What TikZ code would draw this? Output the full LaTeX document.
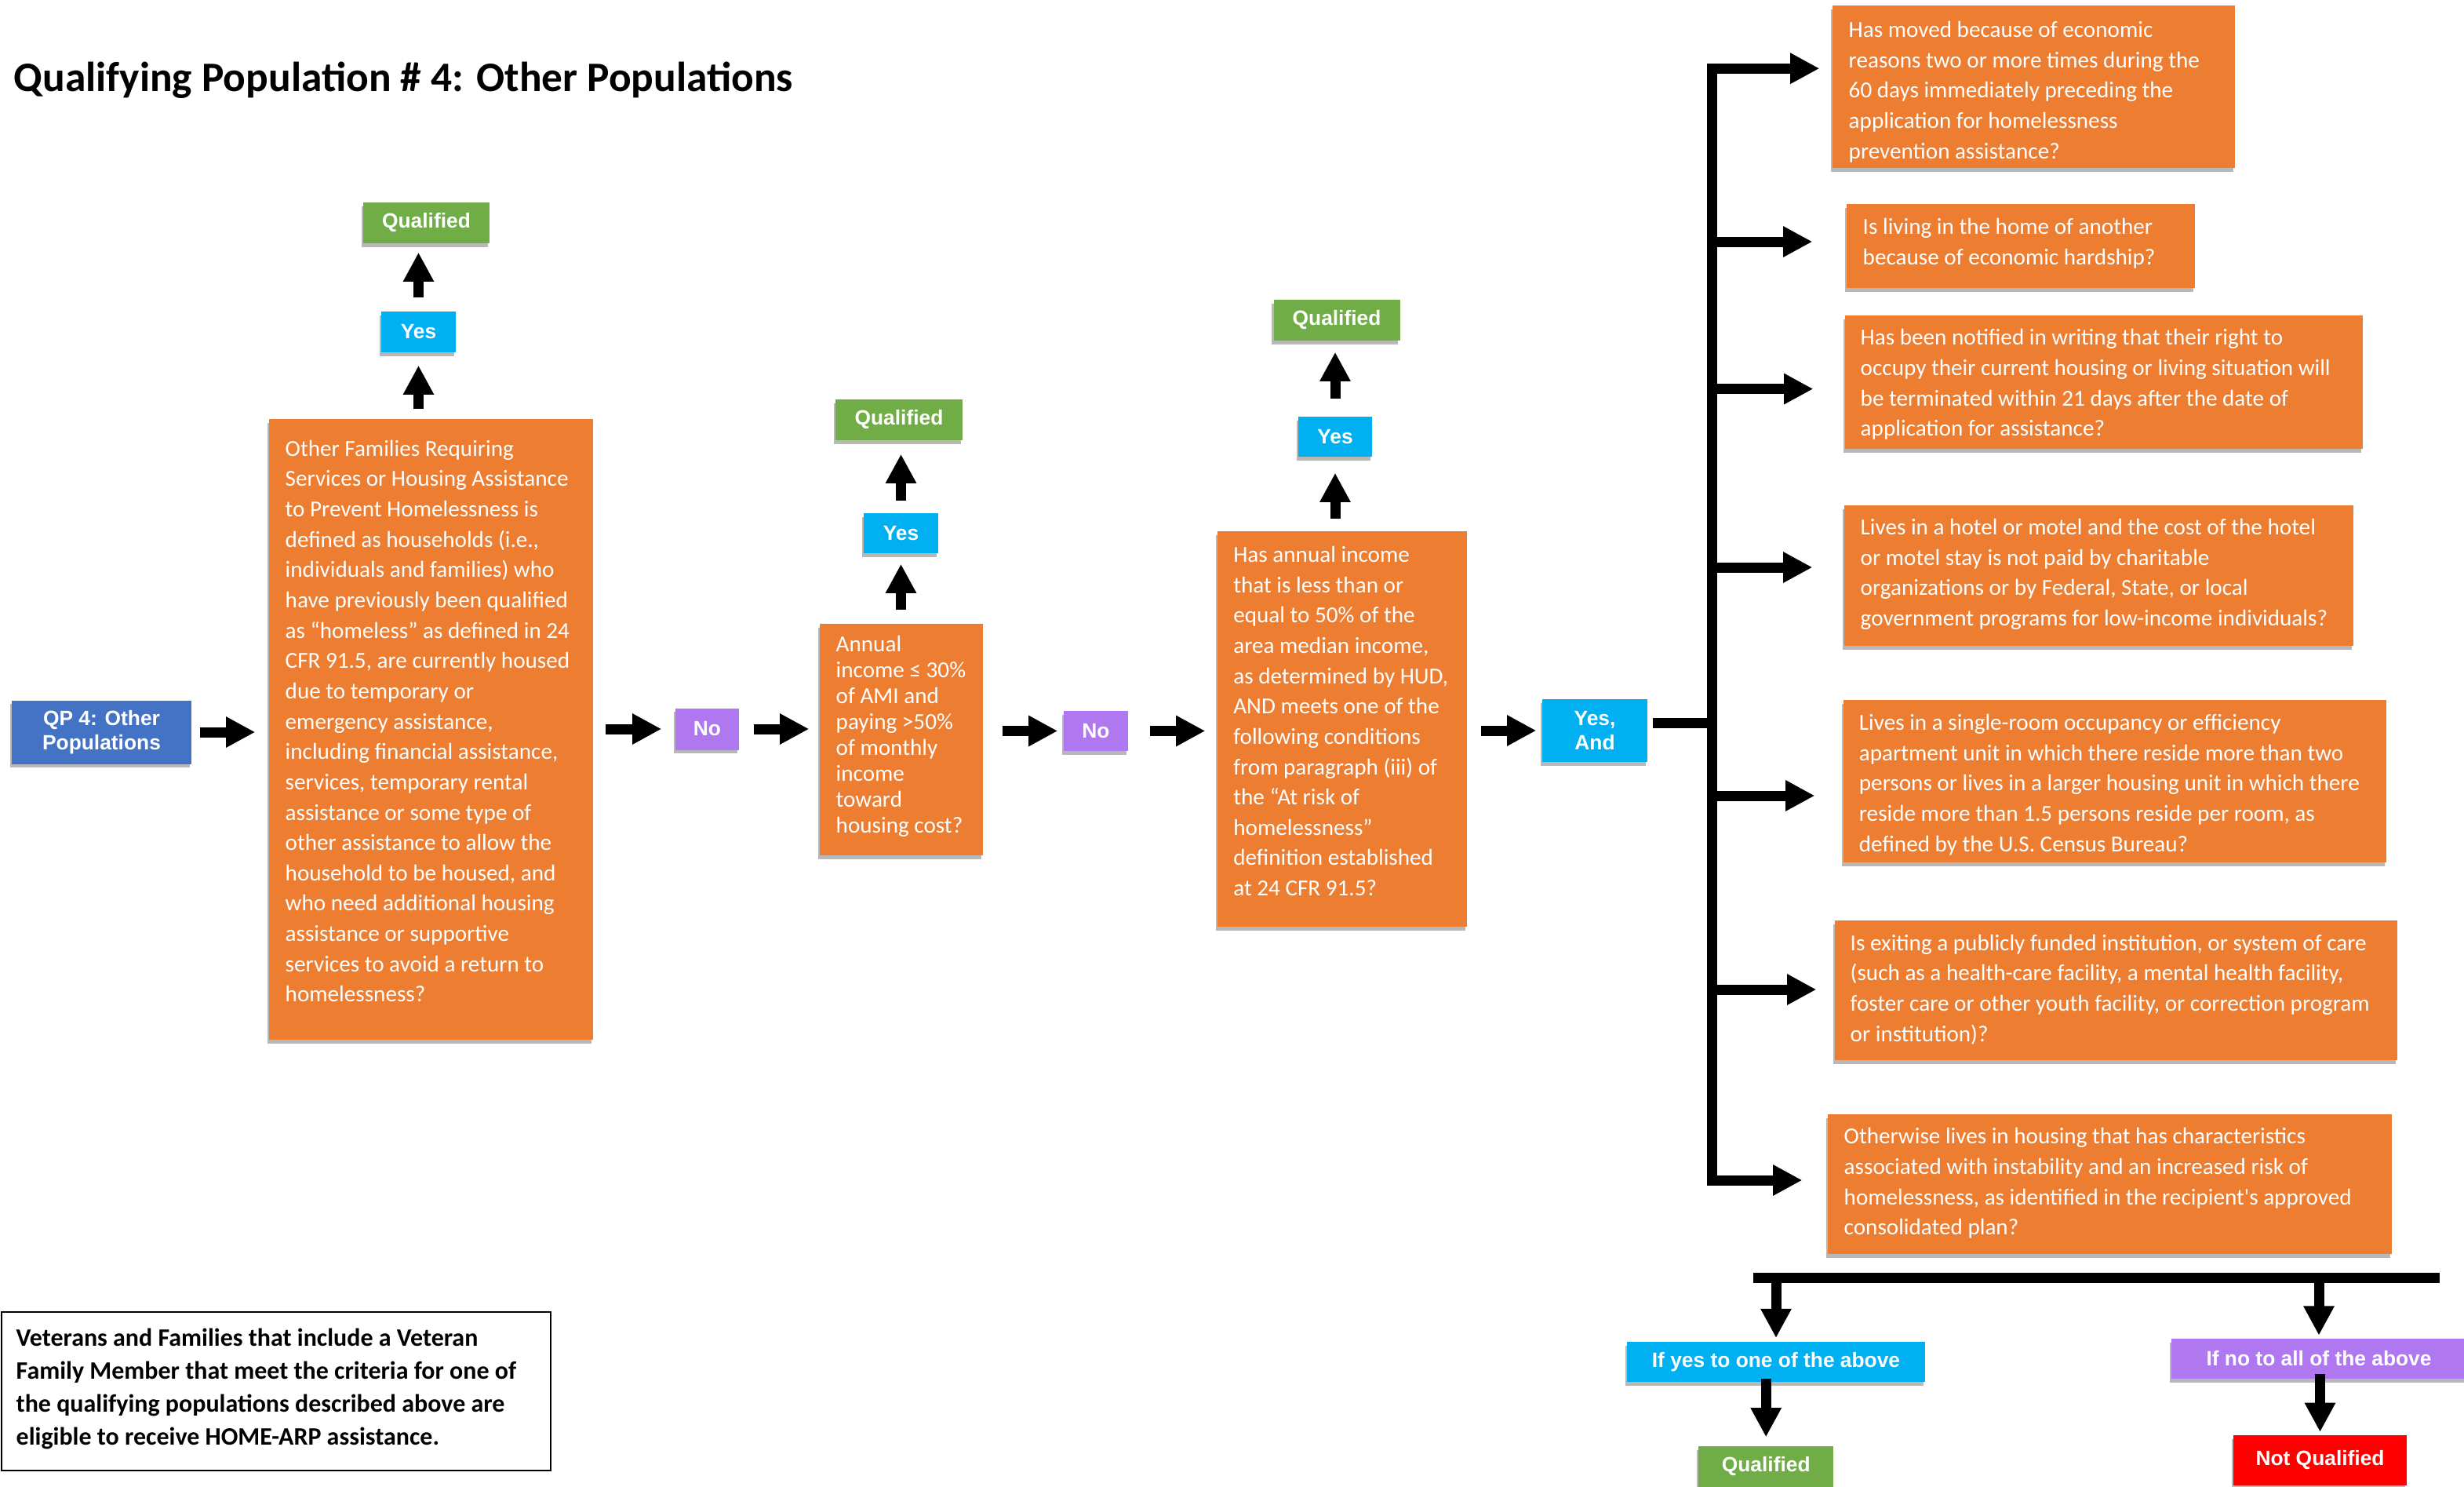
\documentclass[tikz,border=0pt]{standalone}
\usepackage{fontspec}
\usetikzlibrary{arrows.meta,shadows}
\newfontfamily\carl{Carlito}
\newfontfamily\arib{Liberation Sans}
\definecolor{orng}{HTML}{ED7D31}
\definecolor{qpblue}{HTML}{4472C4}
\definecolor{cyanb}{HTML}{00B0F0}
\definecolor{greenb}{HTML}{70AD47}
\definecolor{purpb}{HTML}{AF78F0}
\definecolor{redb}{HTML}{FF0000}
\begin{document}
\begin{tikzpicture}[x=0.02cm,y=-0.02cm,
  shad/.style={drop shadow={shadow xshift=-0.7pt,shadow yshift=-1.4pt,opacity=0.28,fill=black}},
  obox/.style={fill=orng,draw=none,inner sep=0pt,shad},
  otext/.style={text=white,inner sep=0pt,anchor=west,align=left,font=\carl\fontsize{8.3}{11}\selectfont},
  lbl/.style={text=white,inner sep=0pt,align=center,shad,font=\arib\bfseries\fontsize{7.5}{9}\selectfont},
  arr/.style={line width=3.7pt,-{Triangle[length=10.6pt,width=10.5pt]}},
  barline/.style={line width=3.7pt},
]
\useasboundingbox (0,0) rectangle (1570.5,947);

% title
\node[anchor=base west,inner sep=0pt,font=\carl\bfseries\fontsize{15.2}{18}\selectfont] (title) at (8.5,58) {Qualifying Population \# 4: Other Populations};

% left part
\node[lbl,fill=qpblue,minimum width=2.29cm,minimum height=0.81cm] (qp) at (64.75,466.5) {QP 4: Other\\Populations};

\node[obox,minimum width=4.13cm,minimum height=7.91cm] (b1) at (274.75,464.75) {};
\node[otext] (b1t) at (181.5,459.5) {Other Families Requiring\\Services or Housing Assistance\\to Prevent Homelessness is\\defined as households (i.e.,\\individuals and families) who\\have previously been qualified\\as “homeless” as defined in 24\\CFR 91.5, are currently housed\\due to temporary or\\emergency assistance,\\including financial assistance,\\services, temporary rental\\assistance or some type of\\other assistance to allow the\\household to be housed, and\\who need additional housing\\assistance or supportive\\services to avoid a return to\\homelessness?};

\node[lbl,fill=cyanb,minimum width=0.95cm,minimum height=0.52cm] (y1) at (266.75,211.5) {Yes};
\node[lbl,fill=greenb,minimum width=1.61cm,minimum height=0.52cm] (q1) at (271.75,142) {Qualified};
\node[lbl,fill=purpb,minimum width=0.81cm,minimum height=0.53cm] (no1) at (450.75,464.5) {No};

% annual income box
\node[obox,minimum width=2.08cm,minimum height=2.95cm] (b2) at (574.5,471.25) {};
\node[otext,font=\carl\fontsize{8.3}{9.38}\selectfont] (b2t) at (532.5,469) {Annual\\income ≤ 30\%\\of AMI and\\paying >50\%\\of monthly\\income\\toward\\housing cost?};
\node[lbl,fill=cyanb,minimum width=0.95cm,minimum height=0.51cm] (y2) at (574.25,339.75) {Yes};
\node[lbl,fill=greenb,minimum width=1.62cm,minimum height=0.52cm] (q2) at (573,267.5) {Qualified};
\node[lbl,fill=purpb,minimum width=0.82cm,minimum height=0.51cm] (no2) at (698.5,465.75) {No};

% 50% box
\node[obox,minimum width=3.18cm,minimum height=5.04cm] (b3) at (855.5,464.4) {};
\node[otext] (b3t) at (785.8,459.5) {Has annual income\\that is less than or\\equal to 50\% of the\\area median income,\\as determined by HUD,\\AND meets one of the\\following conditions\\from paragraph (iii) of\\the “At risk of\\homelessness”\\definition established\\at 24 CFR 91.5?};
\node[lbl,fill=cyanb,minimum width=0.94cm,minimum height=0.51cm] (y3) at (851,278.25) {Yes};
\node[lbl,fill=greenb,minimum width=1.61cm,minimum height=0.52cm] (q3) at (852,204) {Qualified};
\node[lbl,fill=cyanb,minimum width=1.34cm,minimum height=0.8cm] (ya) at (1016.5,465.5) {Yes,\\And};

% right boxes
\node[obox,minimum width=5.13cm,minimum height=2.07cm] (r1) at (1296.25,55.25) {};
\node[otext] (r1t) at (1178,58.5) {Has moved because of economic\\reasons two or more times during the\\60 days immediately preceding the\\application for homelessness\\prevention assistance?};
\node[obox,minimum width=4.44cm,minimum height=1.07cm] (r2) at (1288,156.65) {};
\node[otext] (r2t) at (1187,155) {Is living in the home of another\\because of economic hardship?};
\node[obox,minimum width=6.6cm,minimum height=1.7cm] (r3) at (1341,243.5) {};
\node[otext] (r3t) at (1185.5,245) {Has been notified in writing that their right to\\occupy their current housing or living situation will\\be terminated within 21 days after the date of\\application for assistance?};
\node[obox,minimum width=6.49cm,minimum height=1.79cm] (r4) at (1337.75,366.8) {};
\node[otext] (r4t) at (1185.5,366) {Lives in a hotel or motel and the cost of the hotel\\or motel stay is not paid by charitable\\organizations or by Federal, State, or local\\government programs for low-income individuals?};
\node[obox,minimum width=6.92cm,minimum height=2.07cm] (r5) at (1348,497.85) {};
\node[otext] (r5t) at (1184.6,500) {Lives in a single-room occupancy or efficiency\\apartment unit in which there reside more than two\\persons or lives in a larger housing unit in which there\\reside more than 1.5 persons reside per room, as\\defined by the U.S. Census Bureau?};
\node[obox,minimum width=7.17cm,minimum height=1.78cm] (r6) at (1348.75,631) {};
\node[otext] (r6t) at (1179,630.5) {Is exiting a publicly funded institution, or system of care\\(such as a health-care facility, a mental health facility,\\foster care or other youth facility, or correction program\\or institution)?};
\node[obox,minimum width=7.19cm,minimum height=1.78cm] (r7) at (1344.75,754.4) {};
\node[otext] (r7t) at (1175,754) {Otherwise lives in housing that has characteristics\\associated with instability and an increased risk of\\homelessness, as identified in the recipient's approved\\consolidated plan?};

% bottom labels
\node[lbl,fill=cyanb,minimum width=3.8cm,minimum height=0.51cm] (iy) at (1132,867.6) {If yes to one of the above};
\node[lbl,fill=greenb,minimum width=1.72cm,minimum height=0.52cm] (qb) at (1125.6,934.5) {Qualified};
\node[lbl,fill=purpb,minimum width=3.76cm,minimum height=0.51cm] (inn) at (1478,865.65) {If no to all of the above};
\node[lbl,fill=redb,minimum width=2.21cm,minimum height=0.64cm] (nq) at (1478.75,930.5) {Not Qualified};

% note box
\node[draw=black,line width=0.6pt,fill=white,minimum width=7.0cm,minimum height=2.02cm,inner sep=0pt] (note) at (176,886.4) {};
\node[inner sep=0pt,anchor=west,align=left,font=\carl\bfseries\fontsize{9.1}{11.95}\selectfont] (notet) at (10,885) {Veterans and Families that include a Veteran\\Family Member that meet the criteria for one of\\the qualifying populations described above are\\eligible to receive HOME-ARP assistance.};

% horizontal arrows
\draw[arr,shorten <=0.1cm,shorten >=0.17cm] (qp.east) -- (qp.east -| b1.west);
\draw[arr,shorten <=0.15cm,shorten >=0.17cm] (b1.east |- no1.west) -- (no1.west);
\draw[arr,shorten <=0.18cm,shorten >=0.13cm] (no1.east) -- (no1.east -| b2.west);
\draw[arr,shorten <=0.24cm,shorten >=0.07cm] (b2.east |- no2.west) -- (no2.west);
\draw[arr,shorten <=0.27cm,shorten >=0.15cm] (no2.east) -- (no2.east -| b3.west);
\draw[arr,shorten <=0.17cm,shorten >=0.07cm] (b3.east |- ya.west) -- (ya.west);

% vertical arrows
\draw[arr,shorten <=0.12cm,shorten >=0.16cm] (y1.south |- b1.north) -- (y1.south);
\draw[arr,shorten <=0.17cm,shorten >=0.11cm] (y1.north) -- (y1.north |- q1.south);
\draw[arr,shorten <=0.17cm,shorten >=0.13cm] (y2.south |- b2.north) -- (y2.south);
\draw[arr,shorten <=0.15cm,shorten >=0.17cm] (y2.north) -- (y2.north |- q2.south);
\draw[arr,shorten <=0.15cm,shorten >=0.2cm] (y3.south |- b3.north) -- (y3.south);
\draw[arr,shorten <=0.22cm,shorten >=0.14cm] (y3.north) -- (y3.north |- q3.south);

% stub and bar
\coordinate (stub) at (1091,460.5);
\draw[barline,shorten <=0.06cm] (ya.east |- stub) -- (stub);
\coordinate (bt) at (1091,43.6);
\coordinate (bb) at (1091,752);
\draw[arr,line join=miter,shorten >=0.16cm] (bb) -- (bt) -- (bt -| r1.west);
\draw[arr,line join=miter,shorten >=0.32cm] (bt) -- (bb) -- (bb -| r7.west);
\coordinate (j2) at (1091,154);
\coordinate (j3) at (1091,247.8);
\coordinate (j4) at (1091,361.5);
\coordinate (j5) at (1091,507);
\coordinate (j6) at (1091,630.5);
\draw[arr,shorten >=0.43cm] (j2) -- (j2 -| r2.west);
\draw[arr,shorten >=0.4cm] (j3) -- (j3 -| r3.west);
\draw[arr,shorten >=0.4cm] (j4) -- (j4 -| r4.west);
\draw[arr,shorten >=0.36cm] (j5) -- (j5 -| r5.west);
\draw[arr,shorten >=0.23cm] (j6) -- (j6 -| r6.west);

% bottom bar and arrows
\coordinate (hbl) at (1117.4,814.4);
\coordinate (hbr) at (1555,814.4);
\draw[barline] (hbl) -- (hbr);
\draw[arr,shorten >=0.04cm] (iy.north |- hbl) -- (iy.north);
\draw[arr,shorten <=-0.046cm,shorten >=0.11cm] (iy.south -| qb.north) -- (qb.north);
\draw[arr,shorten >=0.034cm] (inn.north |- hbl) -- (inn.north);
\draw[arr,shorten <=-0.066cm,shorten >=0.034cm] (inn.south -| nq.north) -- (nq.north);
\end{tikzpicture}
\end{document}
